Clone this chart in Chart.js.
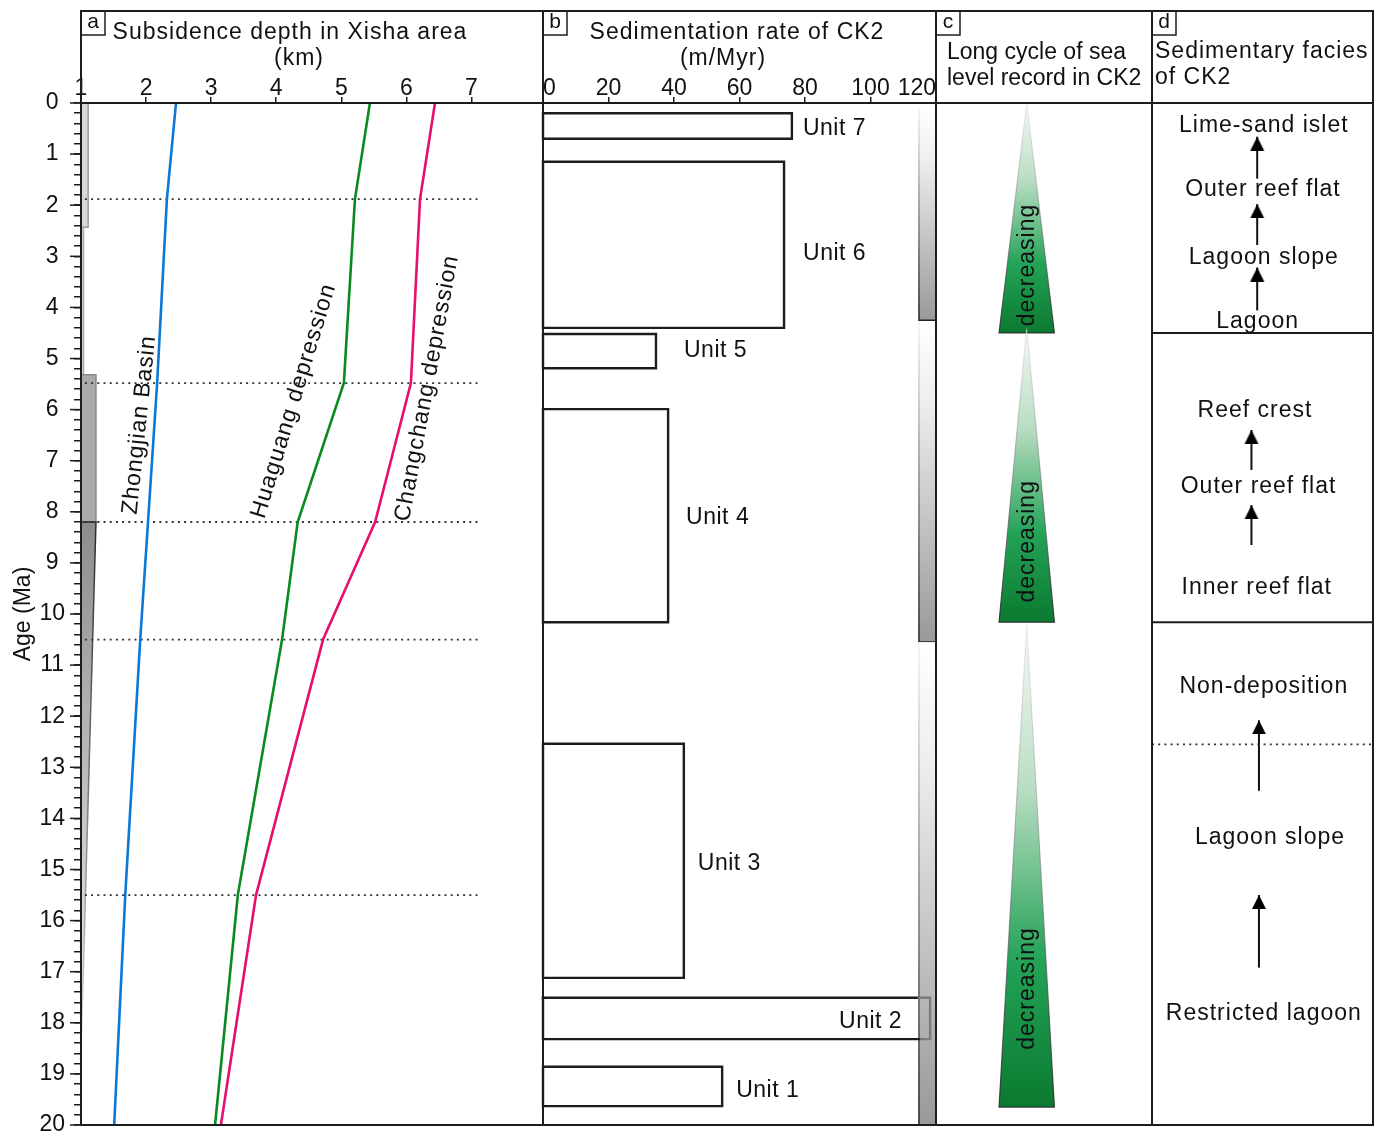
<!DOCTYPE html>
<html>
<head>
<meta charset="utf-8">
<script src="https://cdn.jsdelivr.net/npm/chart.js@4.4.1/dist/chart.umd.min.js"></script>
<style>
  body { margin: 0; background: #fff; }
  #wrap { position: relative; width: 1385px; height: 1133px; overflow: hidden; background: #fff; }
  #wrap canvas { position: absolute; top: 0; }
</style>
</head>
<body>
<div id="wrap">
  <canvas id="ca" width="560" height="1150" style="left:0"></canvas>
  <canvas id="cb" width="420" height="1150" style="left:530px"></canvas>
  <canvas id="cc" width="230" height="1150" style="left:930px"></canvas>
  <canvas id="cd" width="239" height="1150" style="left:1146px"></canvas>
</div>
<script>
// ---- data (age in Ma) ----
// panel a: subsidence depth (km)
const curveAges = [0, 1.88, 5.48, 8.2, 10.5, 15.5, 20];
const zhongjian = [2.46, 2.32, 2.17, 2.03, 1.91, 1.68, 1.51];
const huaguang = [5.44, 5.21, 5.04, 4.33, 4.09, 3.41, 3.06];
const changchang = [6.44, 6.21, 6.07, 5.52, 4.72, 3.69, 3.15];
const boundaryAges = [1.88, 5.48, 8.2, 10.5, 15.5];
const depthTicks = [1, 2, 3, 4, 5, 6, 7];
// grey column at the left of panel a
const shadeTop = [0, 2.43, 5.32, 8.2];
const shadeBase = [2.43, 5.32, 8.2, 18.6];
const shadeWidthTop = [1.11, 1.04, 1.23, 1.23];
const shadeWidthBase = [1.11, 1.04, 1.23, 1.0];

// panel b: sedimentation rate (m/Myr)
const unitNames = ['Unit 1', 'Unit 2', 'Unit 3', 'Unit 4', 'Unit 5', 'Unit 6', 'Unit 7'];
const unitTop = [18.86, 17.51, 12.54, 5.99, 4.52, 1.15, 0.2];
const unitBase = [19.63, 18.32, 17.12, 10.16, 5.19, 4.4, 0.7];
const unitRate = [54.7, 118.2, 43, 38.2, 34.5, 73.6, 76];
const stripTop = [0.08, 4.29, 10.55];
const stripBase = [4.25, 10.55, 20];
const stripFrom = 114.8;

// panel c: long sea-level cycles
const cycleTop = [0, 4.4, 10.2];
const cycleBase = [4.5, 10.16, 19.65];

// panel d: sedimentary facies
const faciesNames = ['Lime-sand islet', 'Outer reef flat', 'Lagoon slope', 'Lagoon',
  'Reef crest', 'Outer reef flat', 'Inner reef flat',
  'Non-deposition', 'Lagoon slope', 'Restricted lagoon'];
const faciesAges = [0.44, 1.7, 3.03, 4.28, 6.03, 7.5, 9.49, 11.43, 14.38, 17.83];
const arrowFrom = [1.48, 2.78, 4.06, 7.18, 8.65, 13.46, 16.92];
const arrowTo = [0.66, 1.98, 3.22, 6.4, 7.87, 12.08, 15.5];
const faciesBreaks = [4.5, 10.16];
const hiatusAge = 12.55;

// ---- helpers ----
Chart.defaults.font.family = '"Liberation Sans", Arial, Helvetica, sans-serif';
Chart.defaults.color = '#111';
Chart.defaults.animation = false;
Chart.defaults.plugins.legend.display = false;
Chart.defaults.plugins.tooltip.enabled = false;

const INK = '#1c1c1c';
const FRAME_TOP = 11;
const ageMin = 0, ageMax = 20;

function drawText(ctx, s, x, y, o = {}) {
  ctx.save();
  ctx.font = (o.size || 23) + 'px "Liberation Sans", Arial, sans-serif';
  ctx.letterSpacing = (o.spacing === undefined ? 1 : o.spacing) + 'px';
  ctx.fillStyle = '#111';
  ctx.textAlign = o.align || 'center';
  ctx.textBaseline = 'middle';
  ctx.translate(x, y);
  if (o.rot) ctx.rotate(o.rot * Math.PI / 180);
  ctx.fillText(s, 0, 0);
  ctx.restore();
}

function hline(ctx, x0, x1, y, w, color) {
  ctx.save();
  ctx.strokeStyle = color || INK; ctx.lineWidth = w || 2;
  ctx.beginPath(); ctx.moveTo(x0, y); ctx.lineTo(x1, y); ctx.stroke();
  ctx.restore();
}

function framePlugin(letter, header) {
  return {
    id: 'frame',
    afterDraw(chart) {
      const { ctx, chartArea: a } = chart;
      ctx.save();
      ctx.strokeStyle = INK; ctx.lineWidth = 2;
      ctx.strokeRect(a.left, FRAME_TOP, a.right - a.left, a.bottom - FRAME_TOP);
      ctx.lineWidth = 1.5;
      ctx.strokeRect(a.left, FRAME_TOP, 24, 24);
      ctx.restore();
      hline(ctx, a.left, a.right, a.top, 2);
      drawText(ctx, letter, a.left + 12, FRAME_TOP + 11, { size: 21, spacing: 0 });
      header(ctx, a);
    }
  };
}

const ageAxisHidden = { type: 'linear', reverse: true, min: ageMin, max: ageMax, display: false };
const topAxisGrid = { drawOnChartArea: false, drawTicks: true, tickLength: 6, color: INK, lineWidth: 1.5 };

// ---- panel a ----
function curve(values, color) {
  return {
    data: curveAges.map((t, i) => ({ x: values[i], y: t })),
    showLine: true, borderColor: color, borderWidth: 2.6, pointRadius: 0, clip: false
  };
}
const dotFrom = 1.06, dotTo = 7.1;

const shadePlugin = {
  id: 'shade',
  beforeDatasetsDraw(chart) {
    const { ctx, scales: { x, y } } = chart;
    const fills = ['#d8d8d8', '#d2d2d2', '#a9a9ac', null];
    const strokes = ['#9a9a9a', '#b0b0b0', '#8a8a8a', null];
    shadeTop.forEach((t, i) => {
      const x0 = x.getPixelForValue(1);
      const y0 = y.getPixelForValue(t), y1 = y.getPixelForValue(shadeBase[i]);
      const xt = x.getPixelForValue(shadeWidthTop[i]), xb = x.getPixelForValue(shadeWidthBase[i]);
      ctx.save();
      ctx.beginPath();
      ctx.moveTo(x0, y0); ctx.lineTo(xt, y0); ctx.lineTo(xb, y1); ctx.lineTo(x0, y1); ctx.closePath();
      if (fills[i]) {
        ctx.fillStyle = fills[i];
        ctx.strokeStyle = strokes[i];
      } else {
        const g = ctx.createLinearGradient(0, y0, 0, y1);
        g.addColorStop(0, '#8c8c8c'); g.addColorStop(1, '#f2f2f2');
        const s = ctx.createLinearGradient(0, y0, 0, y1);
        s.addColorStop(0, '#2a2a2a'); s.addColorStop(0.5, '#777'); s.addColorStop(1, '#e0e0e0');
        ctx.fillStyle = g; ctx.strokeStyle = s;
      }
      ctx.lineWidth = 1.5;
      ctx.fill(); ctx.stroke();
      ctx.restore();
    });
  }
};

const curveLabels = [
  { text: 'Zhongjian Basin', x: 1.9, y: 6.3, rot: -84 },
  { text: 'Huaguang depression', x: 4.27, y: 5.83, rot: -73 },
  { text: 'Changchang depression', x: 6.32, y: 5.58, rot: -79.5 }
];
const curveLabelPlugin = {
  id: 'curveLabels',
  afterDatasetsDraw(chart) {
    const { ctx, scales: { x, y } } = chart;
    curveLabels.forEach(l => drawText(ctx, l.text, x.getPixelForValue(l.x), y.getPixelForValue(l.y), { rot: l.rot }));
  }
};

const majorTickPlugin = {
  id: 'majorTicks',
  afterDraw(chart) {
    const { ctx, scales: { y }, chartArea: a } = chart;
    for (let v = ageMin; v <= ageMax; v++) {
      hline(ctx, a.left - 11, a.left, y.getPixelForValue(v), 1.5);
    }
  }
};

new Chart(document.getElementById('ca'), {
  type: 'scatter',
  data: {
    datasets: [
      curve(zhongjian, '#0a78d6'),
      curve(huaguang, '#0b8a22'),
      curve(changchang, '#e5106c'),
      ...boundaryAges.map(t => ({
        data: [{ x: dotFrom, y: t }, { x: dotTo, y: t }],
        showLine: true, borderColor: '#333', borderWidth: 1.8, borderDash: [2, 4.2], pointRadius: 0
      }))
    ]
  },
  options: {
    responsive: false,
    devicePixelRatio: 1,
    layout: { autoPadding: false, padding: { left: 0, right: 17, top: 0, bottom: 25 } },
    scales: {
      x: {
        type: 'linear', position: 'top', min: 1, max: 8.1,
        afterFit: s => { s.height = 103; },
        afterBuildTicks: s => { s.ticks = depthTicks.map(v => ({ value: v })); },
        grid: topAxisGrid,
        border: { color: INK, width: 1.5 },
        ticks: { font: { size: 23 }, padding: -5, maxRotation: 0 }
      },
      y: {
        type: 'linear', reverse: true, min: ageMin, max: ageMax,
        afterFit: s => { s.width = 81; },
        grid: { drawOnChartArea: false, tickLength: 7, color: INK, lineWidth: 1.5 },
        border: { color: INK, width: 2 },
        ticks: {
          stepSize: 0.2, autoSkip: false, font: { size: 23 }, padding: 9, crossAlign: 'center',
          callback: v => Math.abs(v - Math.round(v)) < 1e-6 ? String(Math.round(v)) : ''
        },
        title: { display: true, text: 'Age (Ma)', font: { size: 23 }, padding: { top: 10, bottom: 0 } }
      }
    }
  },
  plugins: [shadePlugin, curveLabelPlugin, majorTickPlugin, framePlugin('a', (ctx, a) => {
    drawText(ctx, 'Subsidence depth in Xisha area', a.left + 209, 33);
    drawText(ctx, '(km)', a.left + 218, 59);
  })]
});

// ---- panel b ----
function unitBox(i) {
  const r = unitRate[i], t = unitTop[i], b = unitBase[i];
  const pts = [{ x: 0, y: t }];
  if (r > stripFrom) pts.push({ x: stripFrom, y: t });
  pts.push({ x: r, y: t }, { x: r, y: b });
  if (r > stripFrom) pts.push({ x: stripFrom, y: b });
  pts.push({ x: 0, y: b }, { x: 0, y: t });
  return {
    label: unitNames[i],
    data: pts,
    showLine: true, borderColor: INK, borderWidth: 2.4, pointRadius: 0, clip: false,
    borderJoinStyle: 'miter', borderCapStyle: 'square',
    segment: {
      borderColor: c => (c.p0.parsed.x >= stripFrom - 1e-9 && c.p1.parsed.x >= stripFrom - 1e-9) ? '#7c7c7c' : INK
    }
  };
}

const stripPlugin = {
  id: 'strips',
  beforeDatasetsDraw(chart) {
    const { ctx, scales: { x, y } } = chart;
    const x0 = x.getPixelForValue(stripFrom), x1 = x.getPixelForValue(120);
    stripTop.forEach((t, i) => {
      const y0 = y.getPixelForValue(t), y1 = y.getPixelForValue(stripBase[i]);
      const g = ctx.createLinearGradient(0, y0, 0, y1);
      g.addColorStop(0, '#ffffff'); g.addColorStop(0.25, '#eeeeee'); g.addColorStop(1, '#999999');
      ctx.save();
      ctx.fillStyle = g;
      ctx.fillRect(x0, y0, x1 - x0, y1 - y0);
      const s = ctx.createLinearGradient(0, y0, 0, y1);
      s.addColorStop(0, '#f4f4f4'); s.addColorStop(0.5, '#888'); s.addColorStop(1, '#222');
      ctx.strokeStyle = s; ctx.lineWidth = 1.5;
      ctx.beginPath(); ctx.moveTo(x0, y0); ctx.lineTo(x0, y1);
      if (stripBase[i] < ageMax) ctx.lineTo(x1, y1);
      ctx.stroke();
      ctx.restore();
    });
  }
};

const unitLabelPos = { 'Unit 1': [14, 4], 'Unit 2': [-28, 3], 'Unit 3': [14, 3], 'Unit 4': [18, 2],
  'Unit 5': [28, 0], 'Unit 6': [19, 9], 'Unit 7': [11, 3] };
const unitLabelPlugin = {
  id: 'unitLabels',
  afterDatasetsDraw(chart) {
    const { ctx, scales: { x, y } } = chart;
    unitNames.forEach((n, i) => {
      const [dx, dy] = unitLabelPos[n];
      const xr = x.getPixelForValue(unitRate[i]);
      const ym = (y.getPixelForValue(unitTop[i]) + y.getPixelForValue(unitBase[i])) / 2;
      drawText(ctx, n, xr + dx, ym + dy, { align: dx < 0 ? 'right' : 'left', spacing: 0.5 });
    });
  }
};

new Chart(document.getElementById('cb'), {
  type: 'scatter',
  data: { datasets: unitNames.map((n, i) => unitBox(i)) },
  options: {
    responsive: false,
    devicePixelRatio: 1,
    layout: { autoPadding: false, padding: { left: 13, right: 14, top: 0, bottom: 25 } },
    scales: {
      x: {
        type: 'linear', position: 'top', min: 0, max: 120,
        afterFit: s => { s.height = 103; },
        grid: topAxisGrid,
        border: { color: INK, width: 1.5 },
        ticks: { stepSize: 20, align: 'inner', font: { size: 23 }, padding: -5, maxRotation: 0 }
      },
      y: ageAxisHidden
    }
  },
  plugins: [stripPlugin, unitLabelPlugin, framePlugin('b', (ctx, a) => {
    drawText(ctx, 'Sedimentation rate of CK2', a.left + 194, 33);
    drawText(ctx, '(m/Myr)', a.left + 180, 59);
  })]
});

// ---- panel c ----
const cyclePlugin = {
  id: 'cycles',
  afterDatasetsDraw(chart) {
    const { ctx, scales: { x, y } } = chart;
    const xc = x.getPixelForValue(0.42), half = x.getPixelForValue(0.128) - x.getPixelForValue(0);
    cycleTop.forEach((t, i) => {
      const y0 = y.getPixelForValue(t), y1 = y.getPixelForValue(cycleBase[i]);
      const g = ctx.createLinearGradient(0, y0, 0, y1);
      g.addColorStop(0, 'rgba(245,247,245,0.9)');
      g.addColorStop(0.35, '#b6dcc0');
      g.addColorStop(0.7, '#23a257');
      g.addColorStop(1, '#0a7a30');
      ctx.save();
      ctx.beginPath();
      ctx.moveTo(xc, y0); ctx.lineTo(xc + half, y1); ctx.lineTo(xc - half, y1); ctx.closePath();
      ctx.fillStyle = g; ctx.fill();
      const s = ctx.createLinearGradient(0, y0, 0, y1);
      s.addColorStop(0, 'rgba(200,200,200,0.3)'); s.addColorStop(1, 'rgba(40,40,40,0.9)');
      ctx.strokeStyle = s; ctx.lineWidth = 1.2; ctx.stroke();
      ctx.restore();
      drawText(ctx, 'decreasing', xc + 1, y1 - (y1 - y0) * 0.2 - 22, { rot: -90 });
    });
  }
};

new Chart(document.getElementById('cc'), {
  type: 'scatter',
  data: { datasets: [] },
  options: {
    responsive: false,
    devicePixelRatio: 1,
    layout: { autoPadding: false, padding: { left: 6, right: 8, top: 103, bottom: 25 } },
    scales: { x: { type: 'linear', min: 0, max: 1, display: false }, y: ageAxisHidden }
  },
  plugins: [cyclePlugin, framePlugin('c', (ctx, a) => {
    drawText(ctx, 'Long cycle of sea', a.left + 11, 53, { align: 'left', spacing: 0 });
    drawText(ctx, 'level record in CK2', a.left + 11, 79, { align: 'left', spacing: 0 });
  })]
});

// ---- panel d ----
const arrowHead = document.createElement('canvas');
arrowHead.width = 16; arrowHead.height = 28;
(() => {
  const c = arrowHead.getContext('2d');
  c.fillStyle = '#000';
  c.beginPath(); c.moveTo(8, 14); c.lineTo(15, 28); c.lineTo(1, 28); c.closePath(); c.fill();
})();

const arrowX = [47.6, 47.6, 47.6, 45, 45, 48.4, 48.4];
const faciesX = [50.6, 50.2, 50.6, 47.8, 46.6, 48.2, 47.4, 50.6, 53.4, 50.6];

const faciesPlugin = {
  id: 'facies',
  afterDatasetsDraw(chart) {
    const { ctx, scales: { x, y } } = chart;
    faciesNames.forEach((n, i) => drawText(ctx, n, x.getPixelForValue(faciesX[i]), y.getPixelForValue(faciesAges[i])));
  }
};

new Chart(document.getElementById('cd'), {
  type: 'scatter',
  data: {
    datasets: [
      ...faciesBreaks.map(t => ({
        data: [{ x: 0, y: t }, { x: 100, y: t }],
        showLine: true, borderColor: INK, borderWidth: 2, pointRadius: 0, clip: false
      })),
      {
        data: [{ x: 0, y: hiatusAge }, { x: 100, y: hiatusAge }],
        showLine: true, borderColor: '#333', borderWidth: 1.8, borderDash: [2, 4.2], pointRadius: 0, clip: false
      },
      ...arrowFrom.map((t, i) => ({
        data: [{ x: arrowX[i], y: t }, { x: arrowX[i], y: arrowTo[i] }],
        showLine: true, borderColor: '#111', borderWidth: 2, clip: false,
        pointRadius: [0, 8], pointStyle: arrowHead
      }))
    ]
  },
  options: {
    responsive: false,
    devicePixelRatio: 1,
    layout: { autoPadding: false, padding: { left: 6, right: 12, top: 103, bottom: 25 } },
    scales: { x: { type: 'linear', min: 0, max: 100, display: false }, y: ageAxisHidden }
  },
  plugins: [faciesPlugin, framePlugin('d', (ctx, a) => {
    drawText(ctx, 'Sedimentary facies', a.left + 3, 52, { align: 'left' });
    drawText(ctx, 'of CK2', a.left + 3, 78, { align: 'left' });
  })]
});
</script>
</body>
</html>
